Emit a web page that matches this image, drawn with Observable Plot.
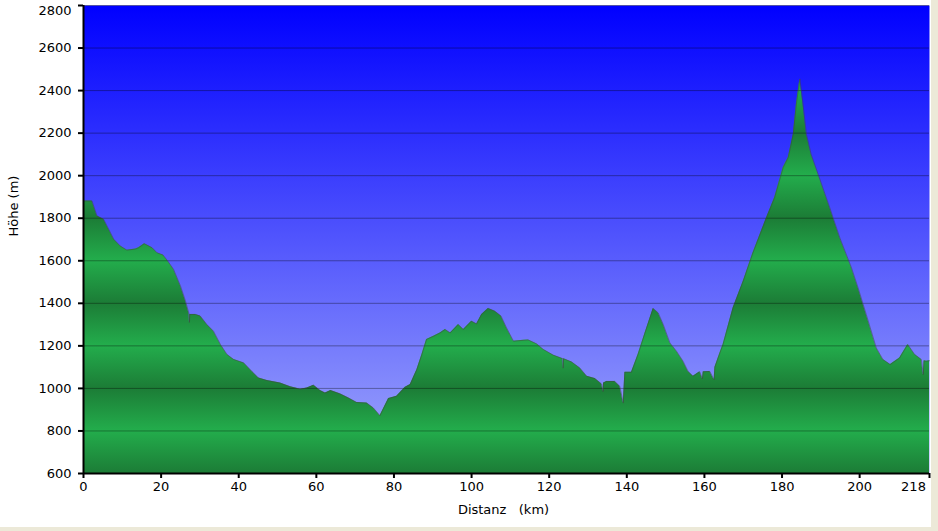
<!DOCTYPE html>
<html>
<head>
<meta charset="utf-8">
<script src="https://cdn.jsdelivr.net/npm/d3@7"></script>
<script src="https://cdn.jsdelivr.net/npm/@observablehq/plot@0.6"></script>
<style>
  body { margin: 0; background: #ece9d8; }
  #chart { width: 931px; height: 527px; background: white; overflow: hidden; }
</style>
</head>
<body>
<div id="chart"></div>
<script>
const distKm = [0, 0.3, 2.2, 3.5, 5.2, 6.5, 7.8, 9.5, 11.2, 13.4, 14.2, 15.7, 17.7, 19, 20.5, 21.7, 23.2, 25, 26.3,
  27.2, 27.3, 27.4, 28.8, 30.1, 31.8, 33.5, 35.3, 37, 38.7, 41.3, 43.4, 45.1, 47.3, 50.7, 53.3, 55.9, 57.6, 59.3,
  61, 62.3, 63.7, 66.2, 68.3, 70.4, 73, 74.7, 76.4, 78.6, 80.7, 82.9, 84.2, 85.9, 87.2, 88.4, 90.2, 91.9, 93.2,
  94.5, 96.6, 97.9, 100, 101.3, 102.6, 104.3, 106, 107.6, 109, 110.8, 113.3, 114.6, 116.8, 118.5, 121.1, 123.5,
  123.6, 123.7, 125.8, 127.9, 129.7, 131.8, 133.5, 133.9, 134.0, 134.8, 136.9, 138.2, 139.1, 139.5, 141.2, 142.9,
  144.7, 146.8, 148.1, 149.4, 151.1, 152.8, 154.5, 155.8, 157.1, 158.8, 159.5, 159.7, 161.4, 162.5, 162.7, 164,
  164.8, 167.4, 170, 172.5, 176, 178.1, 180.3, 181.6, 182.9, 183.7, 184.6, 185.4, 186.3, 187.5, 189.3, 192.3,
  194.9, 197.9, 199.6, 201.7, 204.3, 206, 207.9, 210.3, 212.4, 214.2, 215.9, 216.4, 216.6, 217.2, 218];
const heightM = [1880, 1881, 1881, 1810, 1795, 1748, 1701, 1669, 1650, 1655, 1661, 1680, 1661, 1637, 1627, 1599, 1560, 1481, 1410,
  1350, 1310, 1348, 1348, 1340, 1300, 1269, 1206, 1159, 1136, 1120, 1080, 1049, 1037, 1025, 1008, 996, 1002, 1015,
  990, 978, 990, 974, 955, 934, 931, 908, 872, 952, 963, 1005, 1018, 1088, 1159, 1230, 1245, 1261, 1277,
  1261, 1300, 1277, 1316, 1303, 1348, 1376, 1363, 1340, 1285, 1222, 1226, 1228, 1209, 1183, 1156, 1140,
  1095, 1140, 1124, 1096, 1057, 1046, 1021, 985, 1025, 1033, 1033, 1010, 931, 1076, 1076, 1159,
  1261, 1376, 1355, 1300, 1214, 1175, 1128, 1080, 1057, 1078, 1045, 1078, 1080, 1040, 1100, 1167,
  1206, 1379, 1504, 1637, 1802, 1897, 2038, 2085, 2195, 2337, 2455, 2337, 2195, 2101, 2007, 1850,
  1708, 1567, 1473, 1348, 1190, 1136, 1112, 1143, 1206, 1159, 1136, 1065, 1130, 1128, 1130];
const xTicks = [0, 20, 40, 60, 80, 100, 120, 140, 160, 180, 200, 218];
const yTicks = [600, 800, 1000, 1200, 1400, 1600, 1800, 2000, 2200, 2400, 2600, 2800];

const profil = distKm.map((km, i) => ({km, h: heightM[i]}));
const ganz = d => String(d);
const ohneRand = rand => d => d === rand ? "" : String(d);

const chart = Plot.plot({
  width: 931,
  height: 527,
  marginLeft: 83,
  marginRight: 2,
  marginTop: 5,
  marginBottom: 54,
  style: {fontFamily: "DejaVu Sans", fontSize: "13px", color: "black", background: "white"},
  x: {domain: [0, 218]},
  y: {domain: [600, 2800]},
  marks: [
    Plot.frame({fill: "url(#himmel)", stroke: null}),
    Plot.areaY(profil, {x: "km", y1: 600, y2: "h", fill: "url(#gruen)", clip: true}),
    Plot.gridY(yTicks, {stroke: "#000", strokeOpacity: 0.35, strokeWidth: 1}),
    Plot.line(profil, {x: "km", y: "h", stroke: "#444", strokeOpacity: 0.5, strokeWidth: 1}),
    // Achsen; Randbeschriftungen (2800, 218) nach innen gerückt wie im Original
    Plot.axisY(yTicks, {tickSize: 5, tickPadding: 7, label: null, strokeWidth: 2, tickFormat: ohneRand(2800)}),
    Plot.axisY(yTicks.slice(-1), {tickSize: 0, tickPadding: 12, label: null, tickFormat: ganz, dy: 5}),
    Plot.axisX(xTicks, {tickSize: 5, tickPadding: 3, label: null, strokeWidth: 2, tickFormat: ohneRand(218)}),
    Plot.axisX(xTicks.slice(-1), {tickSize: 0, tickPadding: 8, label: null, tickFormat: ganz, dx: -16}),
    Plot.ruleX([0], {stroke: "black", strokeWidth: 2}),
    Plot.ruleY([600], {stroke: "black", strokeWidth: 2}),
    Plot.text(["Höhe (m)"], {frameAnchor: "left", dx: -70, dy: -3, rotate: -90, fontSize: 13}),
    Plot.text(["Distanz\u00a0\u00a0\u00a0(km)"], {frameAnchor: "bottom", dx: -3, dy: 40, fontSize: 13})
  ]
});

// Verläufe für Himmel und Gelände
const y = chart.scale("y");
const defs = d3.select(chart).insert("defs", ":first-child");
const himmel = defs.append("linearGradient")
  .attr("id", "himmel").attr("gradientUnits", "userSpaceOnUse")
  .attr("x1", 0).attr("x2", 0).attr("y1", y.apply(2800)).attr("y2", y.apply(600));
himmel.append("stop").attr("offset", 0).attr("stop-color", "#0000ff");
himmel.append("stop").attr("offset", 1).attr("stop-color", "#a2aafb");

const gruen = defs.append("linearGradient")
  .attr("id", "gruen").attr("gradientUnits", "userSpaceOnUse")
  .attr("x1", 0).attr("x2", 0).attr("y1", y.apply(600)).attr("y2", y.apply(2800));
yTicks.forEach((v, i) => {
  gruen.append("stop")
    .attr("offset", (v - 600) / 2200)
    .attr("stop-color", i % 2 === 0 ? "#1c7c36" : "#23ad4c");
});

d3.select('#chart').append(() => chart);
</script>
</body>
</html>
